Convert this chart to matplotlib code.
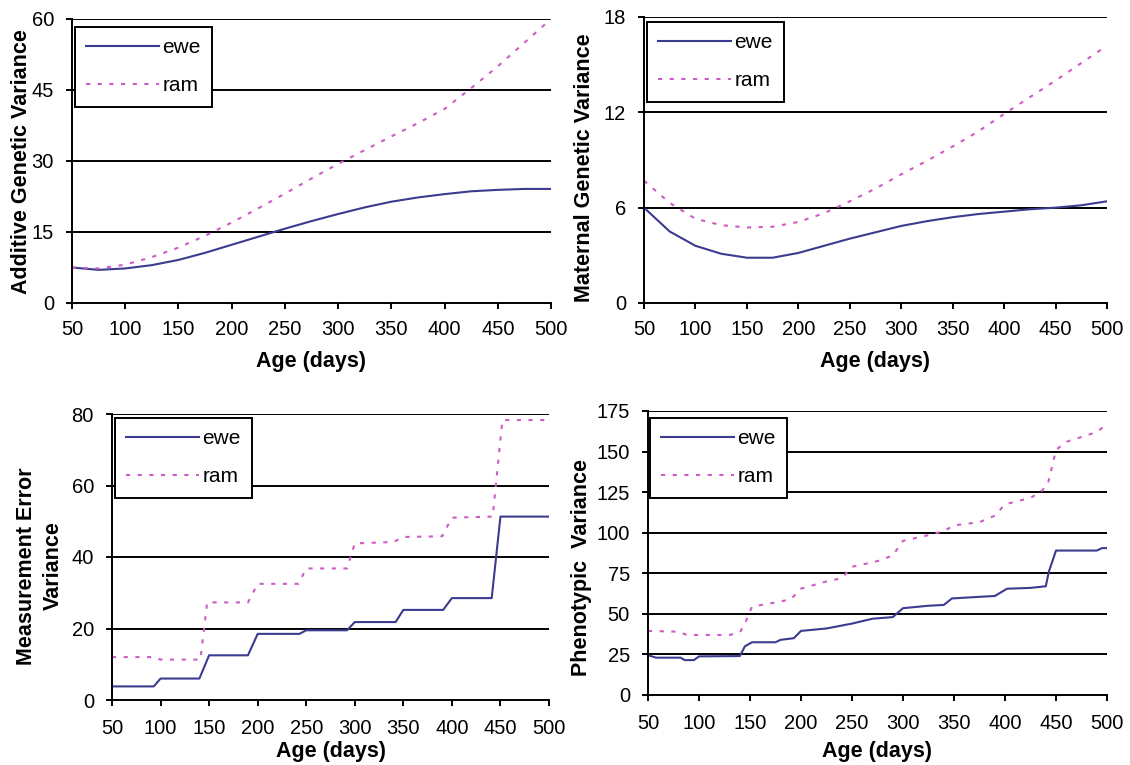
import matplotlib
matplotlib.use("Agg")
import matplotlib.pyplot as plt

plt.rcParams['font.family'] = ['Liberation Sans', 'DejaVu Sans']

# ---------------- data ----------------
series_names = ["ewe", "ram"]
x_ticks = [50, 100, 150, 200, 250, 300, 350, 400, 450, 500]

# Additive genetic variance
add_days = [50, 75, 100, 125, 150, 175, 200, 225, 250, 275, 300, 325, 350, 375, 400, 425, 450, 475, 500]
add_ewe = [7.5, 7.0, 7.3, 8.0, 9.1, 10.6, 12.3, 14.0, 15.7, 17.3, 18.8, 20.2, 21.4, 22.3, 23.0, 23.6, 23.9, 24.1, 24.1]
add_ram = [7.5, 7.3, 8.1, 9.7, 11.7, 14.2, 17.0, 20.0, 23.1, 26.3, 29.4, 32.3, 35.2, 38.0, 41.0, 45.4, 50.0, 55.0, 60.0]

# Maternal genetic variance
mat_days = [50, 75, 100, 125, 150, 175, 200, 225, 250, 275, 300, 325, 350, 375, 400, 425, 450, 475, 500]
mat_ewe = [6.0, 4.5, 3.6, 3.1, 2.85, 2.85, 3.15, 3.6, 4.05, 4.45, 4.85, 5.15, 5.4, 5.6, 5.75, 5.9, 6.0, 6.15, 6.4]
mat_ram = [7.7, 6.3, 5.3, 4.9, 4.75, 4.8, 5.1, 5.65, 6.4, 7.2, 8.1, 8.95, 9.85, 10.8, 11.9, 12.95, 14.0, 15.1, 16.2]

# Measurement error variance
me_ewe_days = [50, 93, 100, 140, 150, 190, 200, 243, 250, 292, 300, 342, 350, 391, 400, 441, 450, 500]
me_ewe = [3.8, 3.8, 6.0, 6.0, 12.5, 12.5, 18.5, 18.5, 19.5, 19.5, 21.8, 21.8, 25.2, 25.2, 28.5, 28.5, 51.3, 51.3]
me_ram_days = [50, 92, 100, 141, 148, 190, 200, 242, 250, 292, 300, 340, 350, 390, 400, 442, 452, 500]
me_ram = [12.0, 12.0, 11.3, 11.3, 27.3, 27.3, 32.5, 32.5, 36.8, 36.8, 43.8, 44.2, 45.6, 45.8, 51.0, 51.3, 78.3, 78.3]

# Phenotypic variance
ph_ewe_days = [50, 58, 82, 86, 95, 100, 140, 145, 152, 175, 180, 193, 200, 225, 250, 270, 290, 300,
               325, 340, 348, 375, 390, 402, 425, 440, 443, 450, 490, 495, 500]
ph_ewe = [24.5, 23.0, 23.0, 21.5, 21.5, 23.8, 24.0, 30.0, 32.5, 32.5, 34.0, 35.0, 39.5, 41.0, 44.0, 47.0, 48.0, 53.5,
          55.0, 55.5, 59.5, 60.5, 61.0, 65.5, 66.0, 67.0, 76.0, 89.0, 89.0, 90.5, 90.5]
ph_ram_days = [50, 80, 88, 130, 140, 145, 152, 175, 190, 200, 225, 240, 250, 275, 290, 300, 325, 340, 350,
               375, 390, 400, 425, 435, 442, 450, 460, 475, 490, 500]
ph_ram = [39.5, 39.0, 37.0, 37.0, 38.5, 44.0, 54.5, 57.0, 59.0, 65.5, 70.0, 72.0, 79.0, 82.5, 86.0, 95.0, 98.5, 101.0, 104.5,
          106.5, 110.5, 117.5, 121.5, 125.0, 130.0, 151.0, 156.0, 159.0, 162.0, 167.0]

panels = [
    dict(ylabel="Additive Genetic Variance", yticks=[0, 15, 30, 45, 60],
         ewe=(add_days, add_ewe), ram=(add_days, add_ram)),
    dict(ylabel="Maternal Genetic Variance", yticks=[0, 6, 12, 18],
         ewe=(mat_days, mat_ewe), ram=(mat_days, mat_ram)),
    dict(ylabel="Measurement Error\nVariance", yticks=[0, 20, 40, 60, 80],
         ewe=(me_ewe_days, me_ewe), ram=(me_ram_days, me_ram)),
    dict(ylabel="Phenotypic  Variance", yticks=[0, 25, 50, 75, 100, 125, 150, 175],
         ewe=(ph_ewe_days, ph_ewe), ram=(ph_ram_days, ph_ram)),
]

# ---------------- layout (pixels) ----------------
W, H = 1130, 765
boxes = [(72, 551, 19, 303), (644, 1107, 17, 303), (112, 549, 414, 700), (648, 1107, 411, 695)]
ylabel_pos = [(22, 162), (584, 168), (40, 566), (582, 568)]
xlabel_y = [362, 362, 752, 752]
legend_tl = [(75, 27), (647, 22), (115, 418), (650, 418)]
xtick_pad = [8.0, 8.0, 9.5, 9.5]

EWE_C = '#3b3b8f'
RAM_C = '#cc5cc6'

fig = plt.figure(figsize=(W / 100, H / 100), dpi=100)
fig.patch.set_facecolor('white')

for i, p in enumerate(panels):
    l, r, t, b = boxes[i]
    ax = fig.add_axes([l / W, 1 - b / H, (r - l) / W, (b - t) / H])
    ax.plot(p['ewe'][0], p['ewe'][1], color=EWE_C, lw=1.5, label=series_names[0])
    ax.plot(p['ram'][0], p['ram'][1], color=RAM_C, lw=1.5, ls=(0, (2.0, 3.6)), label=series_names[1])
    ax.set_xlim(50, 500)
    ax.set_ylim(p['yticks'][0], p['yticks'][-1])
    ax.set_xticks(x_ticks)
    ax.set_yticks(p['yticks'])
    for yv in p['yticks'][1:]:
        ax.axhline(yv, color='black', lw=1.4, zorder=0.5)
    for s in ['top', 'right']:
        ax.spines[s].set_visible(False)
    for s in ['left', 'bottom']:
        ax.spines[s].set_linewidth(1.4)
        ax.spines[s].set_color('black')
    ax.tick_params(axis='both', direction='out', length=4.5, width=1.4, labelsize=14.5, colors='black')
    ax.tick_params(axis='x', pad=xtick_pad[i])
    ax.tick_params(axis='y', pad=8.5)
    ax.set_xlabel("Age (days)", fontsize=15.5, fontweight='bold')
    ax.xaxis.label.set_va('center')
    ax.xaxis.set_label_coords(0.5, (b - xlabel_y[i]) / (b - t))
    ax.set_ylabel(p['ylabel'], fontsize=15.5, fontweight='bold', linespacing=1.35)
    ax.yaxis.label.set_va('center')
    ax.yaxis.label.set_ha('center')
    lx, ly = ylabel_pos[i]
    ax.yaxis.set_label_coords((lx - l) / (r - l), (b - ly) / (b - t))
    gx, gy = legend_tl[i]
    leg = ax.legend(loc='upper left', bbox_to_anchor=((gx - l) / (r - l), (b - gy) / (b - t)),
                    borderaxespad=0, fontsize=15, handlelength=3.5, handletextpad=0.15,
                    borderpad=0.55, labelspacing=0.9, fancybox=False, framealpha=1,
                    edgecolor='black')
    leg.get_frame().set_linewidth(1.4)

fig.savefig("out.png", dpi=100, facecolor='white')
